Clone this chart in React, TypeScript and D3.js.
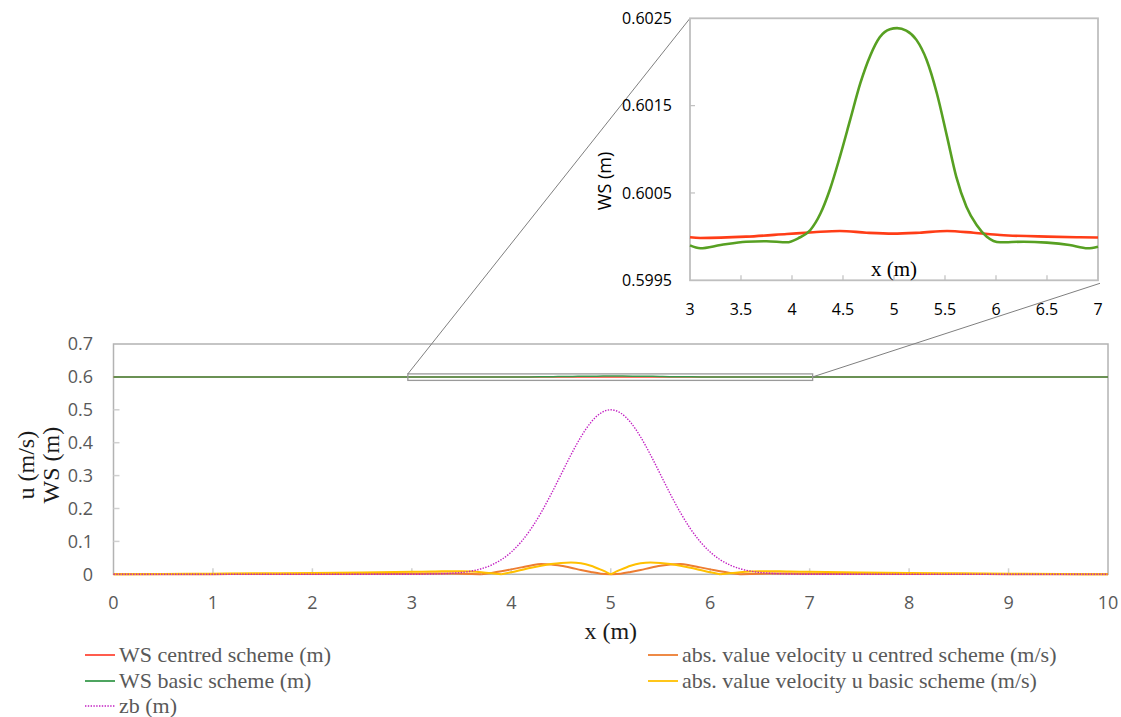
import React from 'react';
import * as d3 from 'd3';

// ---------- main chart data ----------
const xGrid = [0, 0.5, 1, 1.5, 2, 2.5, 3,
  3.1, 3.2, 3.3, 3.4, 3.5, 3.6, 3.7, 3.8, 3.9, 4.0,
  4.1, 4.2, 4.3, 4.4, 4.5, 4.6, 4.7, 4.8, 4.9, 5.0,
  5.1, 5.2, 5.3, 5.4, 5.5, 5.6, 5.7, 5.8, 5.9, 6.0,
  6.1, 6.2, 6.3, 6.4, 6.5, 6.6, 6.7, 6.8, 6.9,
  7, 7.5, 8, 8.5, 9, 9.5, 10];

const zb = [0, 0, 0, 0, 0, 0.00001, 0.0002,
  0.0004, 0.0008, 0.0016, 0.003, 0.0056, 0.0099, 0.017, 0.028, 0.0445, 0.0677,
  0.099, 0.139, 0.1877, 0.2434, 0.3033, 0.3631, 0.4176, 0.4616, 0.4901, 0.5,
  0.4901, 0.4616, 0.4176, 0.3631, 0.3033, 0.2434, 0.1877, 0.139, 0.099, 0.0677,
  0.0445, 0.028, 0.017, 0.0099, 0.0056, 0.003, 0.0016, 0.0008, 0.0004,
  0.0002, 0.00001, 0, 0, 0, 0, 0];

const uCentred = [0, 0.0003, 0.0005, 0.0007, 0.001, 0.0013, 0.0018,
  0.002, 0.0021, 0.0022, 0.0021, 0.0017, 0.0009, 0, 0.004, 0.009, 0.015,
  0.021, 0.027, 0.031, 0.030, 0.026, 0.020, 0.013, 0.007, 0.002, 0,
  0.002, 0.007, 0.013, 0.020, 0.026, 0.030, 0.031, 0.027, 0.021, 0.015,
  0.009, 0.004, 0, 0.0009, 0.0017, 0.0021, 0.0022, 0.0021, 0.002,
  0.0018, 0.0013, 0.001, 0.0007, 0.0005, 0.0003, 0];

const uBasic = [0, 0.001, 0.002, 0.003, 0.004, 0.0055, 0.0075,
  0.008, 0.0085, 0.009, 0.0092, 0.0092, 0.0085, 0.0065, 0.0035, 0, 0.006,
  0.013, 0.020, 0.026, 0.031, 0.0345, 0.036, 0.0335, 0.026, 0.014, 0,
  0.014, 0.026, 0.0335, 0.036, 0.0345, 0.031, 0.026, 0.020, 0.013, 0.006,
  0, 0.0035, 0.0065, 0.0085, 0.0092, 0.0092, 0.009, 0.0085, 0.008,
  0.0075, 0.0055, 0.004, 0.003, 0.002, 0.001, 0];

// water surface far from the bump (main chart only)
const wsFarX = [0, 1, 2, 8, 9, 10];
const wsCentredFar = [0.6, 0.6, 0.6, 0.6, 0.6, 0.6];
const wsBasicFar = [0.5999, 0.5999, 0.5999, 0.5999, 0.5999, 0.5999];

// ---------- inset (zoom) data ----------
const wsBasicX = [3.0, 3.1, 3.3, 3.55, 3.75, 3.95, 4.06, 4.18, 4.28, 4.37, 4.47, 4.57,
  4.67, 4.77, 4.86, 4.96, 5.03, 5.12, 5.22, 5.32, 5.42, 5.52, 5.61, 5.71, 5.81, 5.91,
  6.04, 6.27, 6.5, 6.72, 6.9, 7.0];
const wsBasic = [0.5999, 0.599867, 0.599904, 0.599942, 0.599947, 0.599935, 0.599981,
  0.600076, 0.600267, 0.600534, 0.600916, 0.601336, 0.601757, 0.602081, 0.602283,
  0.602375, 0.602387, 0.602359, 0.602253, 0.602023, 0.601642, 0.601145, 0.600687,
  0.600343, 0.600133, 0.599999, 0.599935, 0.599942, 0.599931, 0.599904, 0.599867, 0.599885];

const wsCentredX = [3.0, 3.1, 3.55, 3.95, 4.21, 4.47, 4.73, 4.99, 5.25, 5.52, 5.78, 6.04, 6.5, 6.82, 7.0];
const wsCentred = [0.599993, 0.599985, 0.6, 0.60003, 0.60005, 0.600065, 0.600045, 0.600034,
  0.600045, 0.600065, 0.600045, 0.600019, 0.6, 0.599993, 0.59999];

// ---------- ticks & labels ----------
const mainXTicks = [0, 1, 2, 3, 4, 5, 6, 7, 8, 9, 10];
const mainYTicks = [0, 0.1, 0.2, 0.3, 0.4, 0.5, 0.6, 0.7];
const insetXTicks = [3, 3.5, 4, 4.5, 5, 5.5, 6, 6.5, 7];
const insetYTicks = [0.5995, 0.6005, 0.6015, 0.6025];

const legendLeft = ['WS centred scheme (m)', 'WS basic scheme (m)', 'zb (m)'];
const legendRight = ['abs. value velocity u centred scheme (m/s)', 'abs. value velocity u basic scheme (m/s)'];

const C = {
  wsC: '#ff4a3a',
  wsB: '#3a9a4e',
  wsCi: '#ff3d17',
  wsBi: '#57a022',
  uC: '#ed7d31',
  uB: '#ffc000',
  zb: '#c21fc2',
  frame: '#b3b3b3',
  tick: '#595959',
};

type P = [number, number];
const zip = (xs: number[], vs: number[]): P[] => xs.map((v, i) => [v, vs[i]]);

// split an |u| series at its exact zeros so the cusps stay sharp
function splitAtZeros(pts: P[]): P[][] {
  const out: P[][] = [];
  let cur: P[] = [];
  pts.forEach((p, i) => {
    cur.push(p);
    if (p[1] === 0 && i > 0 && i < pts.length - 1) {
      out.push(cur);
      cur = [p];
    }
  });
  if (cur.length > 1) out.push(cur);
  return out;
}

export default function App() {
  const W = 1121, H = 717;
  const x = d3.scaleLinear().domain([0, 10]).range([113.5, 1108]);
  const y = d3.scaleLinear().domain([0, 0.7]).range([574.3, 344]);
  const ix = d3.scaleLinear().domain([3, 7]).range([690, 1098]);
  const iy = d3.scaleLinear().domain([0.5995, 0.6025]).range([280.3, 18.3]);

  const line = d3.line<P>().x(d => x(d[0])).y(d => y(d[1])).curve(d3.curveMonotoneX);
  const iline = d3.line<P>().x(d => ix(d[0])).y(d => iy(d[1])).curve(d3.curveMonotoneX);

  const wsCentredMain = [...zip(wsFarX.slice(0, 3), wsCentredFar.slice(0, 3)), ...zip(wsCentredX, wsCentred), ...zip(wsFarX.slice(3), wsCentredFar.slice(3))];
  const wsBasicMain = [...zip(wsFarX.slice(0, 3), wsBasicFar.slice(0, 3)), ...zip(wsBasicX, wsBasic), ...zip(wsFarX.slice(3), wsBasicFar.slice(3))];

  const [x0, x1] = ix.domain();
  const rectL = x(x0) - 4, rectR = x(x1) + 3;
  const rectT = y(0.6) - 3, rectB = y(0.6) + 3.5;

  const sans = '"Open Sans", sans-serif';
  const serif = '"Liberation Serif", serif';

  const legendRowY = [662, 688, 713];

  return (
    <svg width={W} height={H} style={{ position: 'absolute', left: 0, top: 0, background: '#fff' }}>
      {/* ---------- main chart ---------- */}
      <rect x={x(0)} y={y(0.7)} width={x(10) - x(0)} height={y(0) - y(0.7)} fill="#fff" stroke={C.frame} strokeWidth={1.5} />
      {mainXTicks.slice(1, -1).map(t => (
        <line key={'mxt' + t} x1={x(t)} x2={x(t)} y1={y(0)} y2={y(0) - 6} stroke="#d0d0d0" strokeWidth={1.5} />
      ))}
      {mainYTicks.slice(1, -1).map(t => (
        <line key={'myt' + t} x1={x(0)} x2={x(0) + 6} y1={y(t)} y2={y(t)} stroke="#d0d0d0" strokeWidth={1.5} />
      ))}
      {mainXTicks.map(t => (
        <text key={'mxl' + t} x={x(t)} y={609} textAnchor="middle" fontFamily={sans} fontSize={18} fill={C.tick}>{t}</text>
      ))}
      {mainYTicks.map(t => (
        <text key={'myl' + t} x={93} y={y(t)} dy="0.35em" textAnchor="end" fontFamily={sans} fontSize={18} fill={C.tick}>{d3.format('.1~f')(t)}</text>
      ))}
      <text x={(x(0) + x(10)) / 2} y={639} textAnchor="middle" fontFamily={serif} fontSize={24} fill="#1a1a1a">x (m)</text>
      <text transform={`translate(26,${(y(0) + y(0.7)) / 2 + 6}) rotate(-90)`} textAnchor="middle" dominantBaseline="central" fontFamily={serif} fontSize={24} fill="#1a1a1a">u (m/s)</text>
      <text transform={`translate(51,${(y(0) + y(0.7)) / 2 + 6}) rotate(-90)`} textAnchor="middle" dominantBaseline="central" fontFamily={serif} fontSize={24} fill="#1a1a1a">WS (m)</text>

      <path d={line(wsCentredMain) || ''} fill="none" stroke={C.wsC} strokeWidth={1.5} />
      <path d={line(wsBasicMain) || ''} fill="none" stroke={C.wsB} strokeWidth={1.5} />
      {splitAtZeros(zip(xGrid, uCentred)).map((seg, i) => (
        <path key={'uc' + i} d={line(seg) || ''} fill="none" stroke={C.uC} strokeWidth={2} />
      ))}
      {splitAtZeros(zip(xGrid, uBasic)).map((seg, i) => (
        <path key={'ub' + i} d={line(seg) || ''} fill="none" stroke={C.uB} strokeWidth={2} />
      ))}
      <path d={line(zip(xGrid, zb)) || ''} fill="none" stroke={C.zb} strokeWidth={1.4} strokeDasharray="1.4 1.4" />

      {/* zoom box and connectors */}
      <rect x={rectL} y={rectT} width={rectR - rectL} height={rectB - rectT} fill="none" stroke="#9a9a9a" strokeWidth={1.3} />
      <line x1={rectL} y1={rectT} x2={ix(3)} y2={iy(0.6025)} stroke="#7f7f7f" strokeWidth={1} />
      <line x1={rectR} y1={y(0.6)} x2={ix(7) + 2} y2={iy(0.5995) + 3} stroke="#7f7f7f" strokeWidth={1} />

      {/* ---------- inset chart ---------- */}
      <rect x={ix(3)} y={iy(0.6025)} width={ix(7) - ix(3)} height={iy(0.5995) - iy(0.6025)} fill="#fff" stroke="#bfbfbf" strokeWidth={1.8} />
      {insetXTicks.slice(1, -1).map(t => (
        <line key={'ixt' + t} x1={ix(t)} x2={ix(t)} y1={iy(0.5995)} y2={iy(0.5995) - 5} stroke="#bfbfbf" strokeWidth={1.2} />
      ))}
      {insetYTicks.slice(1, -1).map(t => (
        <line key={'iyt' + t} x1={ix(3)} x2={ix(3) + 5} y1={iy(t)} y2={iy(t)} stroke="#bfbfbf" strokeWidth={1.2} />
      ))}
      {insetXTicks.map(t => (
        <text key={'ixl' + t} x={ix(t)} y={315} textAnchor="middle" fontFamily={sans} fontSize={16} fill="#000">{t}</text>
      ))}
      {insetYTicks.map(t => (
        <text key={'iyl' + t} x={672} y={iy(t)} dy="0.35em" textAnchor="end" fontFamily={sans} fontSize={16} fill="#000">{d3.format('.4f')(t)}</text>
      ))}
      <text transform={`translate(604,181) rotate(-90)`} textAnchor="middle" dominantBaseline="central" fontFamily={sans} fontSize={18} fill="#000">WS (m)</text>
      <text x={ix(5)} y={276} textAnchor="middle" fontFamily={serif} fontSize={21} fill="#000">x (m)</text>

      <path d={iline(zip(wsCentredX, wsCentred)) || ''} fill="none" stroke={C.wsCi} strokeWidth={2.6} />
      <path d={iline(zip(wsBasicX, wsBasic)) || ''} fill="none" stroke={C.wsBi} strokeWidth={2.6} />

      {/* ---------- legend ---------- */}
      {legendLeft.map((label, i) => {
        const col = [C.wsC, C.wsB, C.zb][i];
        const yy = legendRowY[i];
        return (
          <g key={'ll' + i}>
            <line x1={85} x2={115} y1={yy - 7} y2={yy - 7} stroke={col} strokeWidth={i === 2 ? 1.4 : 1.8} strokeDasharray={i === 2 ? '1.4 1.4' : undefined} />
            <text x={119} y={yy} fontFamily={serif} fontSize={22} fill={C.tick}>{label}</text>
          </g>
        );
      })}
      {legendRight.map((label, i) => {
        const col = [C.uC, C.uB][i];
        const yy = legendRowY[i];
        return (
          <g key={'lr' + i}>
            <line x1={648} x2={678} y1={yy - 7} y2={yy - 7} stroke={col} strokeWidth={1.8} />
            <text x={682} y={yy} fontFamily={serif} fontSize={22} fill={C.tick}>{label}</text>
          </g>
        );
      })}
    </svg>
  );
}
